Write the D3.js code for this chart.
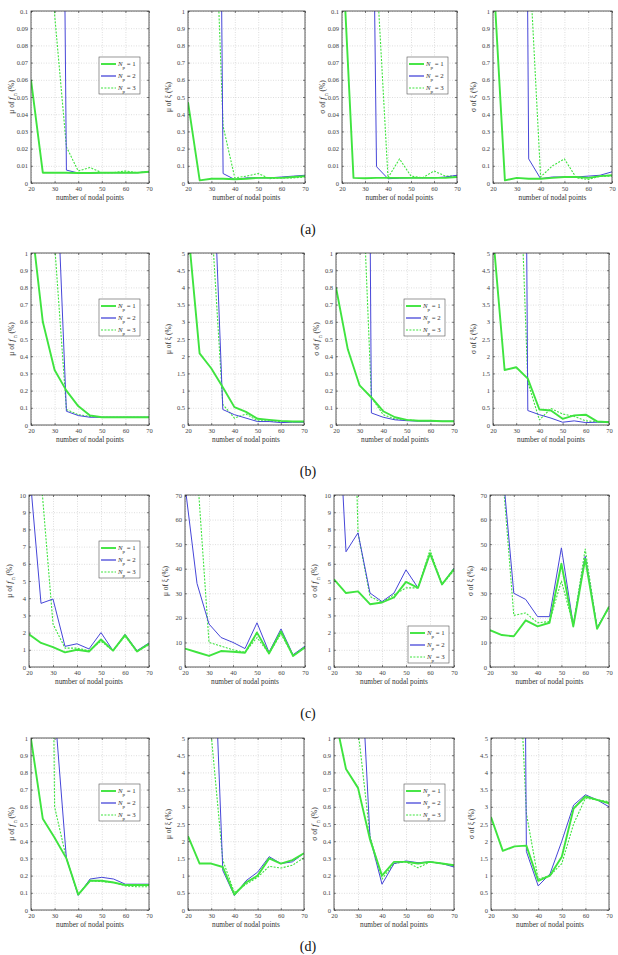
<!DOCTYPE html>
<html>
<head>
<meta charset="utf-8">
<script src="https://cdn.jsdelivr.net/npm/d3@7"></script>
<style>
  body { margin: 0; background: #fff; }
  svg { display: block; font-family: "Liberation Serif", "DejaVu Serif", serif; }
  .tick text { font-family: "Liberation Serif", serif; font-size: 6.5px; fill: #444; }
  .grid line { stroke: #c8c8c8; stroke-width: 0.6; stroke-dasharray: 1,1.5; }
  .grid path { display: none; }
</style>
</head>
<body>
<svg id="fig" width="618" height="955"></svg>
<script>
// number of nodal points
var nodes = [20, 25, 30, 35, 40, 45, 50, 55, 60, 65, 70];
var xTicks = [20, 30, 40, 50, 60, 70];
var npNames = ['1', '2', '3'];
var rowNames = ['(a)', '(b)', '(c)', '(d)'];

// each panel: [Np=1, Np=2, Np=3]  (values above the axis top are clipped)
// row (a)
var a_muFn = [[0.06,0.006,0.006,0.006,0.0058,0.0058,0.006,0.006,0.006,0.006,0.0065],
              [0.9,0.85,0.78,0.0075,0.0058,0.0058,0.006,0.006,0.006,0.006,0.0065],
              [1.6,1.5,0.098,0.021,0.007,0.009,0.006,0.006,0.007,0.006,0.0065]];
var a_muXi = [[0.47,0.015,0.025,0.025,0.022,0.025,0.03,0.03,0.03,0.035,0.04],
              [9,8.5,7.9,0.055,0.02,0.03,0.03,0.03,0.035,0.04,0.045],
              [3,2.5,2.19,0.33,0.03,0.04,0.055,0.025,0.03,0.03,0.035]];
var a_sdFn = [[0.14,0.003,0.0028,0.003,0.003,0.003,0.003,0.003,0.003,0.003,0.0035],
              [0.7,0.6,0.575,0.0095,0.0025,0.0028,0.003,0.003,0.003,0.0035,0.0045],
              [0.15,0.14,0.13,0.124,0.003,0.014,0.004,0.003,0.007,0.004,0.004]];
var a_sdXi = [[1.25,0.015,0.03,0.025,0.025,0.03,0.035,0.035,0.03,0.04,0.045],
              [10,10,10,0.14,0.025,0.035,0.035,0.035,0.04,0.045,0.065],
              [1.5,1.45,1.4,1.375,0.035,0.1,0.14,0.03,0.02,0.04,0.04]];
// row (b)
var b_muFn = [[1.2,0.6,0.32,0.2,0.11,0.055,0.045,0.045,0.045,0.045,0.045],
              [2,1.9,1.78,0.08,0.055,0.045,0.045,0.045,0.045,0.045,0.045],
              [5,5,1.05,0.09,0.06,0.05,0.045,0.045,0.045,0.045,0.045]];
var b_muXi = [[5.73,2.08,1.65,1.1,0.52,0.38,0.18,0.15,0.12,0.1,0.1],
              [10,9.5,9.2,0.45,0.3,0.2,0.1,0.1,0.07,0.08,0.08],
              [7,6.5,6.1,0.6,0.2,0.32,0.12,0.12,0.1,0.1,0.1]];
var b_sdFn = [[0.8,0.44,0.23,0.16,0.08,0.045,0.03,0.025,0.025,0.022,0.022],
              [12,11,10,0.07,0.045,0.03,0.025,0.022,0.022,0.022,0.022],
              [2,1.9,1.84,0.16,0.06,0.035,0.03,0.025,0.025,0.02,0.02]];
var b_sdXi = [[5.55,1.6,1.68,1.35,0.45,0.42,0.18,0.28,0.3,0.1,0.08],
              [50,50,50,0.42,0.3,0.2,0.08,0.12,0.07,0.08,0.08],
              [11,10.8,10.6,1.25,0.15,0.48,0.32,0.25,0.12,0.1,0.1]];
// row (c)
var c_muFn = [[1.9,1.4,1.15,0.85,1.0,0.9,1.6,0.95,1.85,0.9,1.35],
              [11.8,3.7,3.95,1.2,1.35,1.05,2.0,0.95,1.9,0.95,1.4],
              [12,11,2.5,1.1,1.1,0.95,1.5,0.95,1.8,0.9,1.3]];
var c_muXi = [[7.5,6,4.5,6.5,6.2,5.8,14,5.5,14.5,4.5,8],
              [74,34,17.5,12,10,7.5,18,6,15.5,5,8.5],
              [90,81,10,8.5,7,6,12,5.5,13.5,4.5,8]];
var c_sdFn = [[5.1,4.3,4.4,3.65,3.75,4.05,4.95,4.6,6.6,4.8,5.7],
              [20,6.7,7.8,4.3,3.8,4.3,5.65,4.6,6.6,4.8,5.75],
              [36,35,7.8,4.1,3.75,4.2,4.6,4.6,6.8,4.8,5.6]];
var c_sdXi = [[15,13,12.5,19,16.5,18,42,16.5,44,15.5,24.5],
              [90,84,30,27.5,20.5,20.5,48.5,17,45,16,24.5],
              [90,82,21,22,18,18.5,35,17,48,16,24]];
// row (d)
var d_muFn = [[0.995,0.53,0.42,0.3,0.09,0.17,0.17,0.16,0.145,0.145,0.145],
              [1.3,1.25,1.175,0.3,0.085,0.18,0.19,0.18,0.15,0.15,0.15],
              [8,7.3,0.6,0.3,0.09,0.17,0.165,0.16,0.14,0.135,0.135]];
var d_muXi = [[2.15,1.35,1.35,1.25,0.45,0.8,1.0,1.5,1.35,1.45,1.65],
              [10.5,10.2,9.9,1.15,0.42,0.85,1.1,1.55,1.35,1.4,1.65],
              [32,30,5.1,1.45,0.5,0.75,0.95,1.27,1.22,1.3,1.52]];
var d_sdFn = [[1.15,0.82,0.71,0.41,0.2,0.28,0.28,0.27,0.28,0.27,0.26],
              [2,1.9,1.8,0.42,0.15,0.27,0.285,0.275,0.28,0.27,0.25],
              [3.2,3,1.05,0.43,0.18,0.27,0.28,0.245,0.28,0.27,0.26]];
var d_sdXi = [[2.7,1.72,1.85,1.87,0.85,1.0,1.55,2.95,3.3,3.2,3.1],
              [52,51,50,1.7,0.7,1.05,2.0,3.05,3.35,3.2,3.0],
              [11,10.5,10.1,2.8,0.9,1.0,1.35,2.5,3.25,3.2,3.15]];

// axis tops and tick steps per row/column
var yMax  = [[0.1, 1, 0.1, 1], [1, 5, 1, 5], [10, 70, 10, 70], [1, 5, 1, 5]];
var yStep = [[0.01, 0.1, 0.01, 0.1], [0.1, 0.5, 0.1, 0.5], [1, 10, 1, 10], [0.1, 0.5, 0.1, 0.5]];

var panels = [[a_muFn, a_muXi, a_sdFn, a_sdXi],
              [b_muFn, b_muXi, b_sdFn, b_sdXi],
              [c_muFn, c_muXi, c_sdFn, c_sdXi],
              [d_muFn, d_muXi, d_sdFn, d_sdXi]];

// layout
var rowTop = [11, 253, 495, 738], plotH = 172;
var lefts  = [[31, 188, 342, 493], [31, 188, 336, 493], [29, 185, 334, 490], [31, 188, 334, 491]];
var rights = [[149, 305, 457, 612], [149, 304, 454, 609], [149, 305, 454, 609], [149, 304, 454, 609]];
var labelY = [234, 476, 718, 951];

var styles = [
  {color: '#3fe43f', width: 1.9, dash: null},
  {color: '#4646d8', width: 1.0, dash: null},
  {color: '#3fe43f', width: 1.1, dash: '2,1.4'}
];

var svg = d3.select('#fig');
svg.append('rect').attr('width', 618).attr('height', 955).attr('fill', '#fff');

var fmt = function(v) { return String(+v.toFixed(4)); };

function yTitle(g, col) {
  var t = g.append('text').attr('font-size', 7.4).attr('fill', '#333').attr('text-anchor', 'middle');
  t.append('tspan').text((col < 2 ? 'μ' : 'σ') + ' of ');
  if (col % 2 == 0) {
    t.append('tspan').attr('font-style', 'italic').attr('font-size', 8.5).text(' f');
    t.append('tspan').attr('dy', 2.5).attr('font-size', 5.5).text(' n');
    t.append('tspan').attr('dy', -2.5).text(' (%)');
  } else {
    t.append('tspan').text('ξ (%)');
  }
  return t;
}

function drawPanel(r, c) {
  var x0 = lefts[r][c], x1 = rights[r][c], y0 = rowTop[r];
  var w = x1 - x0;
  var g = svg.append('g').attr('transform', 'translate(' + x0 + ',' + y0 + ')');
  var x = d3.scaleLinear().domain([20, 70]).range([0, w]);
  var y = d3.scaleLinear().domain([0, yMax[r][c]]).range([plotH, 0]);
  var yTicks = d3.range(0, yMax[r][c] + yStep[r][c] / 2, yStep[r][c]);

  // grid
  g.append('g').attr('class', 'grid').attr('transform', 'translate(0,' + plotH + ')')
    .call(d3.axisBottom(x).tickValues(xTicks).tickSize(-plotH).tickFormat(''));
  g.append('g').attr('class', 'grid')
    .call(d3.axisLeft(y).tickValues(yTicks).tickSize(-w).tickFormat(''));

  // lines
  var id = 'clip' + r + c;
  g.append('clipPath').attr('id', id).append('rect').attr('width', w).attr('height', plotH);
  var line = d3.line().x(function(d, i) { return x(nodes[i]); }).y(function(d) { return y(d); });
  var data = panels[r][c];
  [2, 1, 0].forEach(function(k) {
    g.append('path').datum(data[k]).attr('clip-path', 'url(#' + id + ')')
      .attr('d', line).attr('fill', 'none')
      .attr('stroke', styles[k].color).attr('stroke-width', styles[k].width)
      .attr('stroke-dasharray', styles[k].dash)
      .attr('stroke-linejoin', 'round');
  });

  // axes with inward ticks
  g.append('g').attr('class', 'ax').attr('transform', 'translate(0,' + plotH + ')')
    .call(d3.axisBottom(x).tickValues(xTicks).tickSizeInner(-2).tickSizeOuter(0).tickPadding(3));
  g.append('g').attr('class', 'ax')
    .call(d3.axisTop(x).tickValues(xTicks).tickSizeInner(-2).tickSizeOuter(0).tickFormat(''));
  g.append('g').attr('class', 'ax')
    .call(d3.axisLeft(y).tickValues(yTicks).tickSizeInner(-2).tickSizeOuter(0).tickPadding(3).tickFormat(fmt));
  g.append('g').attr('class', 'ax').attr('transform', 'translate(' + w + ',0)')
    .call(d3.axisRight(y).tickValues(yTicks).tickSizeInner(-2).tickSizeOuter(0).tickFormat(''));
  g.selectAll('.ax').attr('font-family', null);
  g.selectAll('.ax .domain').attr('stroke', 'none');
  g.selectAll('.ax .tick line').attr('stroke', '#333').attr('stroke-width', 0.6);
  g.append('rect').attr('width', w).attr('height', plotH)
    .attr('fill', 'none').attr('stroke', '#333').attr('stroke-width', 0.8);

  // titles
  g.append('text').attr('x', w / 2).attr('y', plotH + 17).attr('text-anchor', 'middle')
    .attr('font-size', 7.3).attr('fill', '#333').text('number of nodal points');
  var yt = yTitle(g, c);
  yt.attr('transform', 'translate(' + (-17) + ',' + (plotH / 2) + ') rotate(-90)');

  // legend in first and third panel of each row
  if (c == 0 || c == 2) {
    var lw = 41, lh = 37;
    var lx = w - 50, ly = 46;
    if (r == 2 && c == 2) { lx = w - 46; ly = plotH - 41; }
    var lg = g.append('g').attr('transform', 'translate(' + lx + ',' + ly + ')');
    lg.append('rect').attr('width', lw).attr('height', lh)
      .attr('fill', '#fff').attr('stroke', '#555').attr('stroke-width', 0.6);
    npNames.forEach(function(n, k) {
      var yy = 7 + k * 12;
      lg.append('line').attr('x1', 2).attr('x2', 17).attr('y1', yy).attr('y2', yy)
        .attr('stroke', styles[k].color).attr('stroke-width', k == 1 ? 1.3 : styles[k].width)
        .attr('stroke-dasharray', styles[k].dash);
      var t = lg.append('text').attr('x', 19).attr('y', yy + 2).attr('font-size', 6.8).attr('fill', '#333');
      t.append('tspan').attr('font-style', 'italic').text('N');
      t.append('tspan').attr('dy', 3).attr('font-size', 5).text('p');
      t.append('tspan').attr('dy', -3).text(' = ' + n);
    });
  }
}

for (var r = 0; r < 4; r++) {
  for (var c = 0; c < 4; c++) drawPanel(r, c);
  svg.append('text').attr('x', 308).attr('y', labelY[r]).attr('text-anchor', 'middle')
    .attr('font-size', 14).attr('fill', '#111').text(rowNames[r]);
}
</script>
</body>
</html>
